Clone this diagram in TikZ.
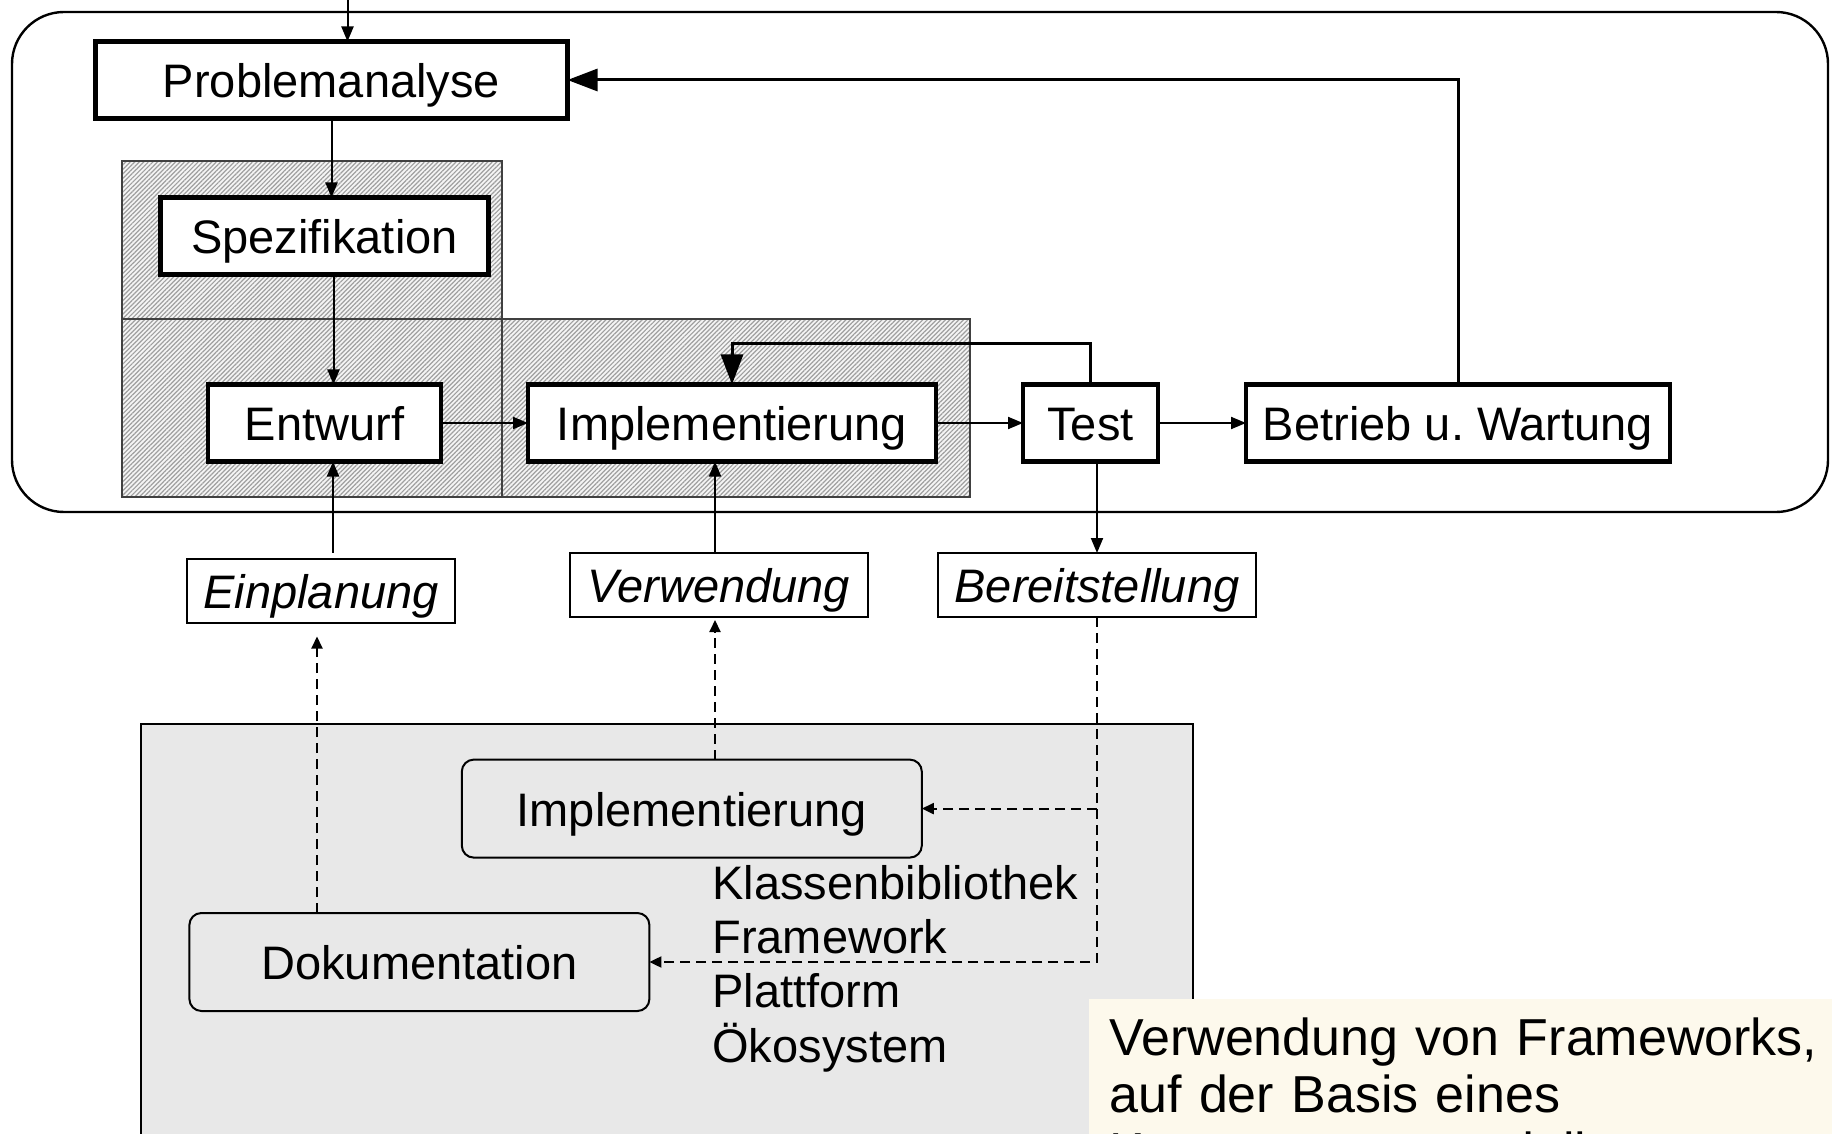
\documentclass[tikz,border=0pt]{standalone}
\usepackage{fontspec}
\setmainfont{Liberation Sans}
\usetikzlibrary{positioning,arrows.meta,patterns.meta}

\definecolor{poolgray}{HTML}{E8E8E8}
\definecolor{notecream}{HTML}{FDF9EC}

\begin{document}
\begin{tikzpicture}[
    phase/.style={draw,line width=2.2pt,fill=white,inner sep=0pt,outer sep=0pt,minimum height=38.5pt,text height=19pt,text depth=1.5pt,font=\fontsize{23.5}{26}\selectfont},
    activity/.style={draw,line width=1pt,fill=white,inner sep=0pt,outer sep=0pt,minimum height=32pt,text height=19pt,text depth=1.5pt,font=\fontsize{23.5}{26}\selectfont\itshape},
    asset/.style={draw,line width=1pt,rounded corners=6pt,fill=poolgray,inner sep=0pt,outer sep=0pt,minimum width=230pt,minimum height=49pt,text height=19pt,text depth=1.5pt,font=\fontsize{23.5}{26}\selectfont},
    kind/.style={anchor=base west,inner sep=0pt,font=\fontsize{23.5}{26}\selectfont},
    notebox/.style={fill=notecream,anchor=north west,align=left,text width=362pt,inner xsep=10pt,inner ysep=9pt,font=\fontsize{26}{28.5}\selectfont},
    hatch/.style={draw=black!75,line width=0.7pt,preaction={fill=gray!8},pattern={Lines[angle=45,distance=1.6pt,line width=0.6pt]},pattern color=gray!75},
    flow/.style={-{Triangle[length=7.5pt,width=6pt]},line width=1pt},
    back/.style={-{Triangle[length=15pt,width=11pt]},line width=1.5pt},
    supply/.style={-{Triangle[length=6pt,width=5.5pt]},line width=1pt,dash pattern=on 5pt off 3pt}]
    \useasboundingbox (0,0) rectangle (916pt,-567pt);
    \clip (0,0) rectangle (916pt,-567pt);

    % Rahmen und schraffierte Bereiche
    \draw[line width=1.2pt,rounded corners=26pt] (6pt,-6pt) rectangle (914pt,-256pt);
    \draw[hatch] (61pt,-80.5pt) rectangle (251pt,-159.5pt);
    \draw[hatch] (61pt,-159.5pt) rectangle (251pt,-248.5pt);
    \draw[hatch] (251pt,-159.5pt) rectangle (485pt,-248.5pt);

    % Phasen
    \node[phase,minimum width=116.5pt] (entwurf) at (162.25pt,-211.5pt) {Entwurf};
    \node[phase,minimum width=204pt] (impl) [right=43.5pt of entwurf] {Implementierung};
    \node[phase,minimum width=67.5pt] (test) [right=43.5pt of impl] {Test};
    \node[phase,minimum width=212pt] (betrieb) [right=44pt of test] {Betrieb u.\ Wartung};
    \node[phase,minimum width=164pt] (spez) [above=55pt of entwurf] {Spezifikation};
    \node[phase,minimum width=236pt] (pa) [above=39.5pt of spez,xshift=3.5pt] {Problemanalyse};

    \coordinate (entry) at ([xshift=8pt]pa.north |- 0,0);
    \draw[flow] (entry) -- (entry |- pa.north);
    \draw[flow] (pa.south) -- (pa.south |- spez.north);
    \draw[flow] ([xshift=4.5pt]spez.south) -- ([xshift=4.5pt]entwurf.north);
    \draw[flow] (entwurf.east) -- (impl.west);
    \draw[flow] (impl.east) -- (test.west);
    \draw[flow] (test.east) -- (betrieb.west);
    \draw[back] (test.north) -- ++(0,20.5pt) -| (impl.north);
    \draw[back] (betrieb.north) |- (pa.east);

    % Taetigkeiten
    \node[activity,minimum width=134pt] (einpl) at (160.5pt,-295.25pt) {Einplanung};
    \node[activity,minimum width=149pt] (verw) at (359.5pt,-292.5pt) {Verwendung};
    \node[activity,minimum width=159pt] (bereit) at (548.5pt,-292.5pt) {Bereitstellung};

    \draw[flow,shorten <=3pt] ([xshift=6pt]einpl.north) -- ([xshift=6pt]einpl.north |- entwurf.south);
    \draw[flow] ([xshift=-2pt]verw.north) -- ([xshift=-2pt]verw.north |- impl.south);
    \draw[flow] (test.south -| bereit.north) -- (bereit.north);

    % Wiederverwendbare Bestandteile
    \draw[fill=poolgray,line width=1pt] (70.5pt,-362pt) rectangle (596.5pt,-580pt);
    \node[asset] (impl2) at (345.9pt,-404.3pt) {Implementierung};
    \node[asset] (doku) at (209.7pt,-481pt) {Dokumentation};

    \node[kind] (k1) at (356pt,-449.5pt) {Klassenbibliothek};
    \node[kind] (k2) at ([yshift=-27.2pt]k1.base west) {Framework};
    \node[kind] (k3) at ([yshift=-27.2pt]k2.base west) {Plattform};
    \node[kind] (k4) at ([yshift=-27.2pt]k3.base west) {Ökosystem};

    \draw[supply,shorten >=7pt] ([xshift=-2pt]einpl.south |- doku.north) -- ([xshift=-2pt]einpl.south);
    \draw[supply,shorten >=1.5pt] ([xshift=-2pt]verw.south |- impl2.north) -- ([xshift=-2pt]verw.south);
    \draw[supply] (bereit.south) -- (bereit.south |- doku.east) -- (doku.east);
    \draw[supply] (bereit.south |- impl2.east) -- (impl2.east);

    \node[notebox] (note) at (544.5pt,-499.5pt) {Verwendung von Frameworks,\\auf der Basis eines\\Komponentenmodells};
\end{tikzpicture}
\end{document}
